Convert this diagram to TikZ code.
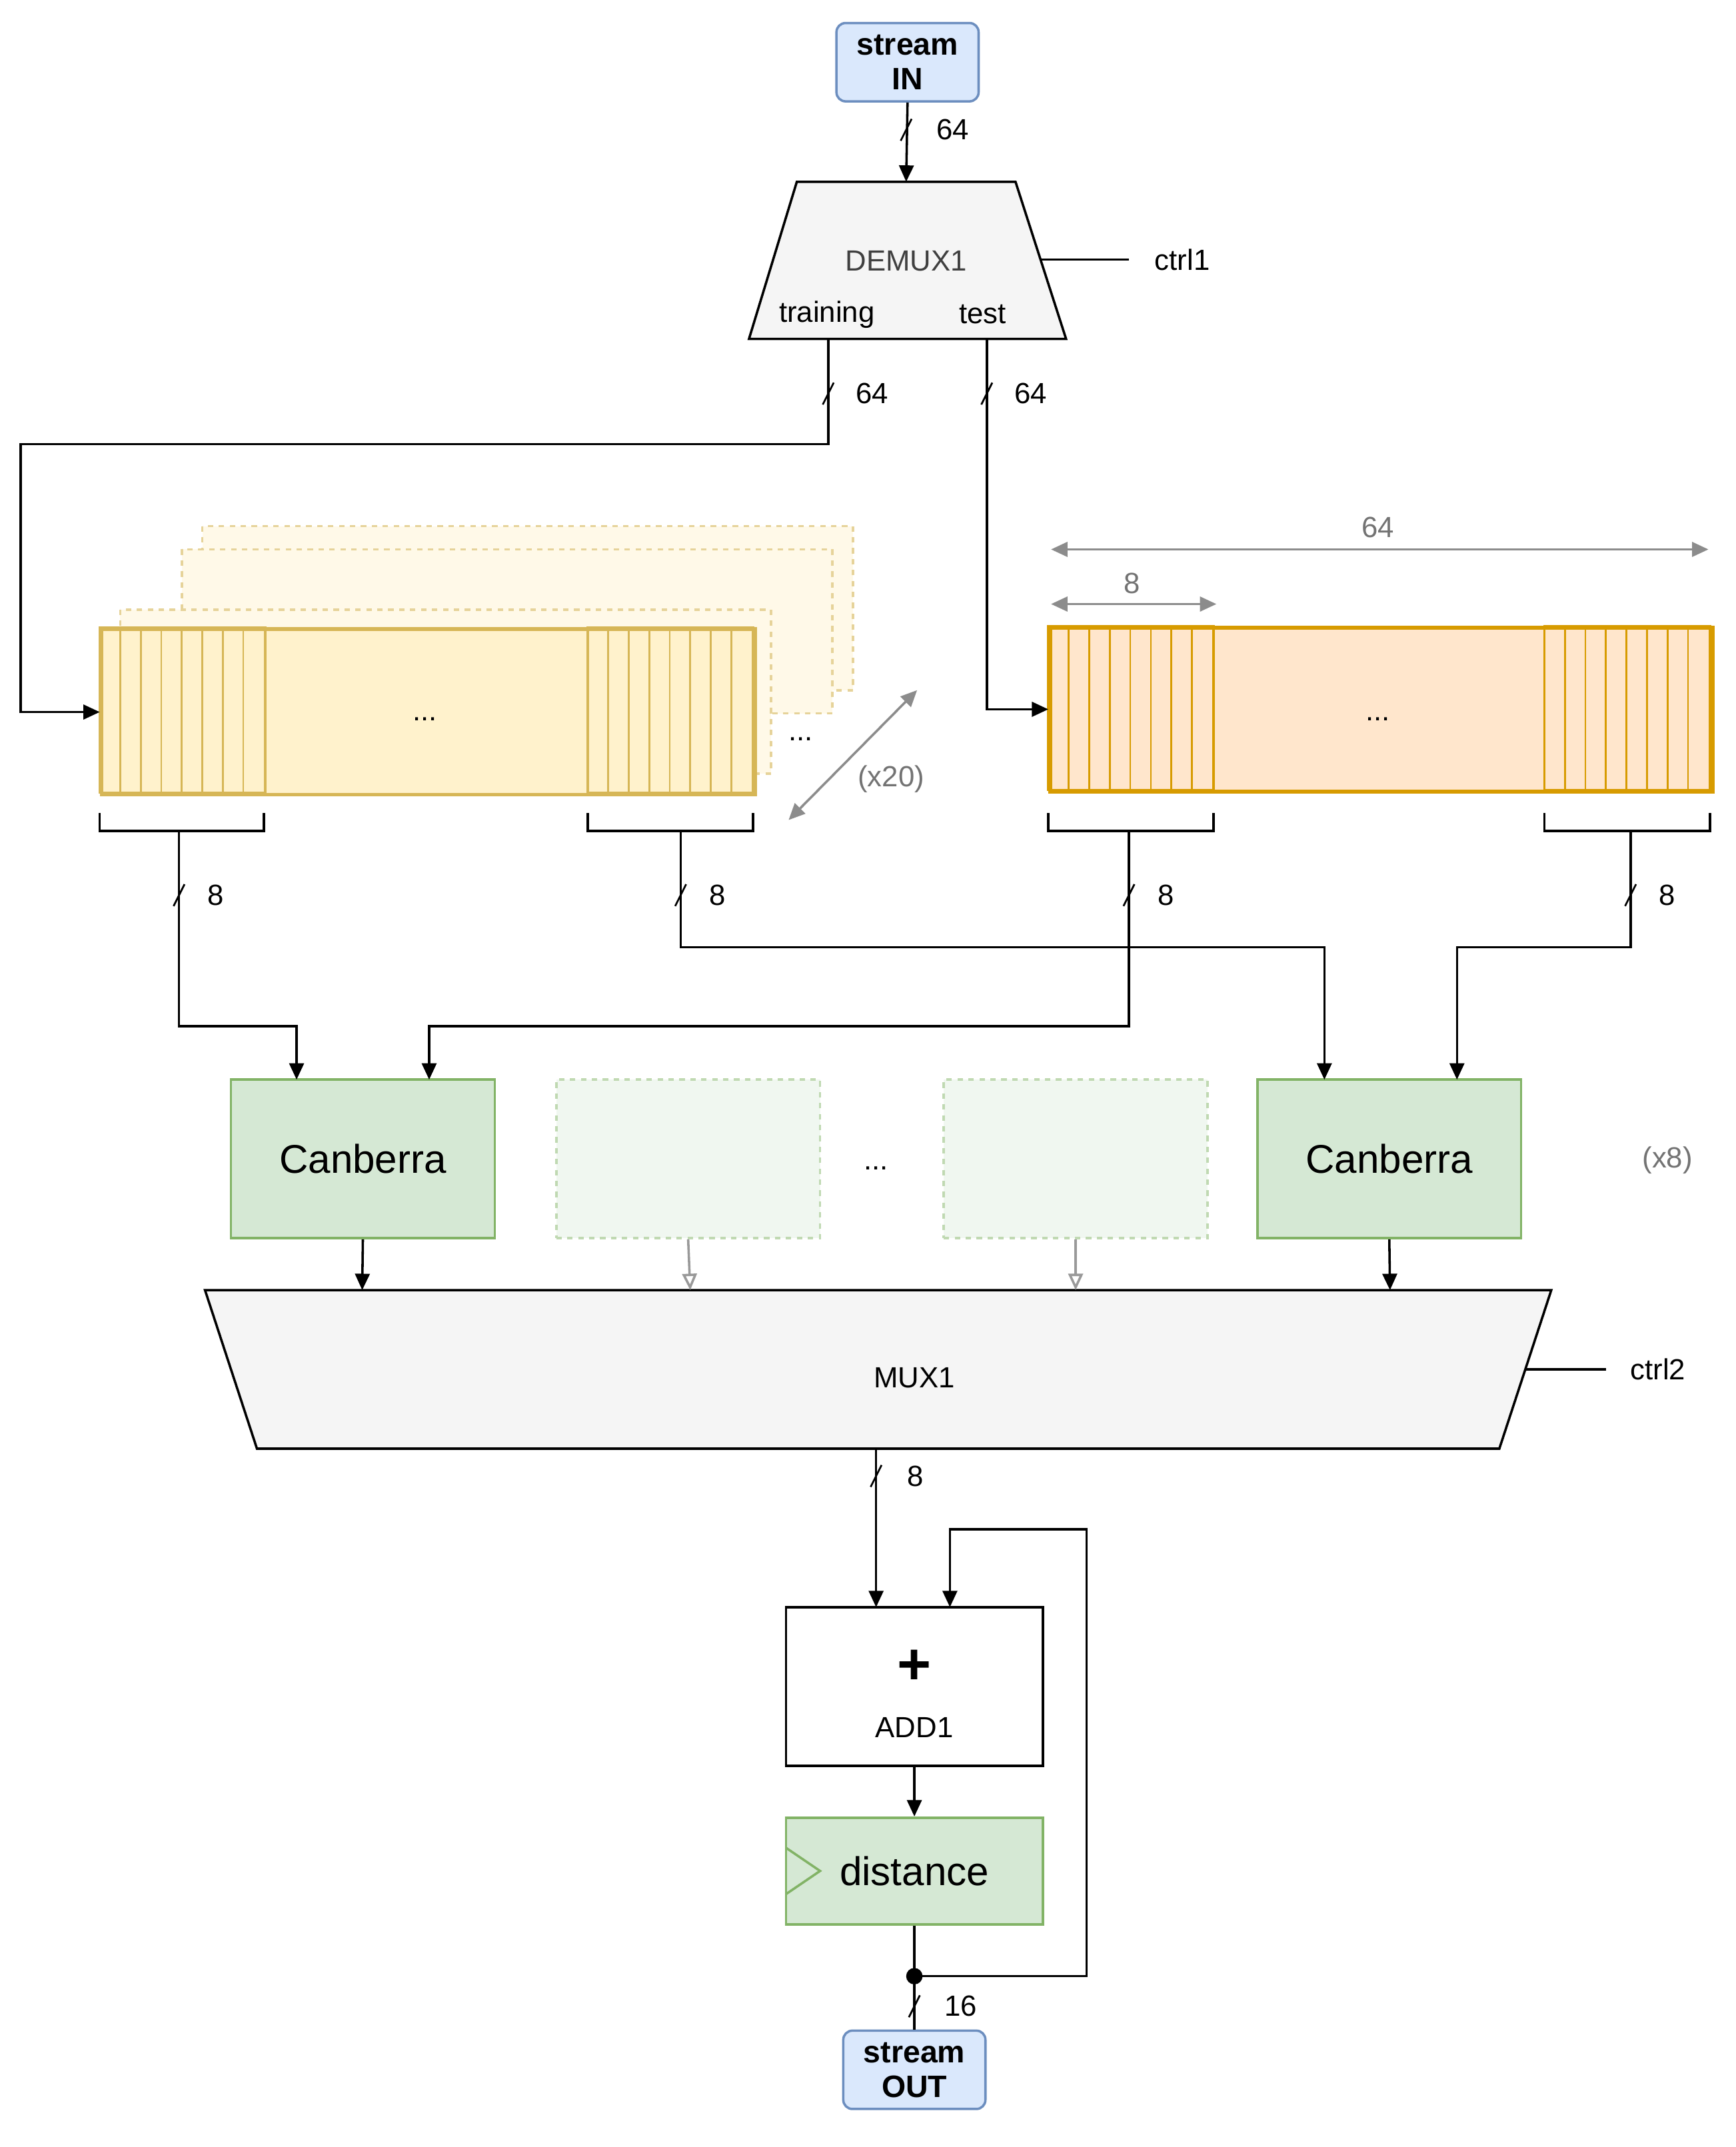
\documentclass[tikz,border=0pt]{standalone}
\usepackage{fontspec}
\setmainfont{Liberation Sans}
\usetikzlibrary{arrows.meta}
\definecolor{bluef}{HTML}{DAE8FC}\definecolor{blued}{HTML}{6C8EBF}
\definecolor{yelf}{HTML}{FFF2CC}\definecolor{yeld}{HTML}{D6B656}
\definecolor{orf}{HTML}{FFE6CC}\definecolor{ord}{HTML}{D79B00}
\definecolor{grf}{HTML}{D5E8D4}\definecolor{grd}{HTML}{82B366}
\definecolor{muxf}{HTML}{F5F5F5}
\begin{document}
\begin{tikzpicture}[x=0.75pt,y=-0.75pt,
  lbl/.style={font=\fontsize{16}{18}\selectfont,inner sep=0},
  glbl/.style={lbl,text=black!55},
  wire/.style={line width=1.3pt},
  arr/.style={wire,-{Triangle[length=9pt,width=8pt]}},
  garr/.style={line width=1.3pt,black!45,{Triangle[length=9pt,width=8pt]}-{Triangle[length=9pt,width=8pt]}},
  stream/.style={draw=blued,fill=bluef,line width=1.3pt,rounded corners=5pt,font=\fontsize{17}{19}\selectfont\bfseries,align=center,inner sep=0},
  green/.style={draw=grd,fill=grf,line width=1.3pt},
  ghost/.style={draw=grd!50,fill=grf!35,dashed,line width=1.3pt},
]
\useasboundingbox (0,0) rectangle (1270,1571);
\newcommand{\slashmark}[2]{\draw[line width=1pt] (#1-4,#2+8) -- (#1+4,#2-8);}
% stream in
\node[stream,minimum width=78pt,minimum height=43pt] (sin) at (664,45.5) {stream\\IN};
\draw[fill=muxf,line width=1.3pt] (583,133) -- (743,133) -- (780,248) -- (548,248) -- cycle;
\node[lbl,text=black!75] (demux) at (663,191) {DEMUX1};
\node[lbl] (tr) at (605,230) {training};
\node[lbl] (te) at (719,230) {test};
\coordinate (dtop) at (663,133);
\draw[arr] (sin.south) -- (dtop);
\slashmark{663}{95}\node[lbl] at (697,95) {64};
\draw[wire] (762,190) -- (826,190); \node[lbl] (c1) at (865,190) {ctrl1};
% ghost registers
\foreach \x/\y in {148/385,133/402,88/446}
  \draw[draw=yeld!60,fill=yelf!45,dashed,line width=1.3pt] (\x,\y) rectangle ++(476,120);
% left register
\node[draw=yeld,fill=yelf,line width=2pt,minimum width=358.5pt,minimum height=90.75pt,inner sep=0,anchor=north west] (lreg) at (73,459) {};
\foreach \a in {73,430}{
  \draw[draw=yeld,line width=1.3pt] (\a,459) rectangle ++(121,121);
  \foreach \i in {1,...,7} \draw[draw=yeld,line width=1pt] (\a+15*\i,459) -- (\a+15*\i,580);}
\node[lbl] at (311,526) {...};
\node[lbl] at (586,541) {...};
\draw[garr] (577,600) -- (671,505); \node[glbl] at (652,570) {(x20)};
% right register
\node[draw=ord,fill=orf,line width=2pt,minimum width=363.75pt,minimum height=90pt,inner sep=0,anchor=north west] (rreg) at (767,458) {};
\foreach \a in {767,1130}{
  \draw[draw=ord,line width=1.3pt] (\a,458) rectangle ++(121,120);
  \foreach \i in {1,...,7} \draw[draw=ord,line width=1pt] (\a+15*\i,458) -- (\a+15*\i,578);}
\node[lbl] at (1008,526) {...};
\draw[garr] (769,402) -- (1250,402); \node[glbl] at (1008,386) {64};
\draw[garr] (769,442) -- (890,442); \node[glbl] at (828,427) {8};
% inputs from demux
\coordinate (lin) at (73,521); \coordinate (rin) at (767,519);
\draw[arr] (606,248) -- (606,325) -- (15,325) -- (15,521) -- (lin);
\slashmark{606}{288}\node[lbl] at (638,288) {64};
\draw[arr] (722,248) -- (722,519) -- (rin);
\slashmark{722}{288}\node[lbl] at (754,288) {64};
% brackets
\foreach \a/\b in {73/193,430/551,767/888,1130/1251}
  \draw[wire] (\a,595) -- (\a,608) -- (\b,608) -- (\b,595);
% canberra
\node[green,minimum width=144.75pt,minimum height=87pt,font=\fontsize{22}{24}\selectfont] (can1) at (265.5,848) {Canberra};
\node[green,minimum width=144.75pt,minimum height=87pt,font=\fontsize{22}{24}\selectfont] (can2) at (1016.5,848) {Canberra};
\node[ghost,minimum width=144.75pt,minimum height=87pt] (g1) at (503.5,848) {};
\node[ghost,minimum width=144.75pt,minimum height=87pt] (g2) at (787,848) {};
\node[lbl] at (641,855) {...};
\node[glbl] at (1220,849) {(x8)};
\draw[arr] (131,608) -- (131,751) -- (217,751) -- (217,790);
\slashmark{131}{655}\node[lbl] at (158,655) {8};
\draw[arr] (498,608) -- (498,693) -- (969,693) -- (969,790);
\slashmark{498}{655}\node[lbl] at (525,655) {8};
\draw[arr] (826,608) -- (826,751) -- (314,751) -- (314,790);
\slashmark{826}{655}\node[lbl] at (853,655) {8};
\draw[arr] (1193,608) -- (1193,693) -- (1066,693) -- (1066,790);
\slashmark{1193}{655}\node[lbl] at (1220,655) {8};
% mux
\draw[fill=muxf,line width=1.3pt] (150,944) -- (1135,944) -- (1097,1060) -- (188,1060) -- cycle;
\node[lbl] (mux) at (669,1008) {MUX1};
\draw[arr] (can1.south) -- (265,944);
\draw[arr] (can2.south) -- (1017,944);
\draw[line width=1.3pt,black!40,-{Triangle[length=9pt,width=8pt,open,fill=white]}] (g1.south) -- (505,944);
\draw[line width=1.3pt,black!40,-{Triangle[length=9pt,width=8pt,open,fill=white]}] (g2.south) -- (787,944);
\draw[wire] (1116,1002) -- (1175,1002); \node[lbl] (c2) at (1213,1002) {ctrl2};
% adder
\node[draw,fill=white,line width=1.3pt,minimum width=141pt,minimum height=87pt] (add) at (669,1234) {};
\node[inner sep=0,font=\fontsize{32}{32}\selectfont\bfseries] at (669,1220) {+};
\node[lbl] at (669,1264) {ADD1};
\draw[arr] (641,1060) -- (641,1176);
\slashmark{641}{1080}\node[lbl] at (670,1080) {8};
\node[green,minimum width=141pt,minimum height=58.5pt,font=\fontsize{22}{24}\selectfont] (dist) at (669,1369) {distance};
\draw[draw=grd,line width=1.3pt] (575,1352) -- (600,1369) -- (575,1386);
\draw[arr] (add.south) -- (dist.north);
\node[stream,minimum width=78pt,minimum height=43pt] (sout) at (669,1514.5) {stream\\OUT};
\coordinate (dot) at (669,1446);
\draw[wire] (dist.south) -- (sout.north);
\fill (dot) circle (4.5pt);
\draw[arr] (dot) -- (795,1446) -- (795,1119) -- (695,1119) -- (695,1176);
\slashmark{669}{1468}\node[lbl] at (703,1468) {16};
\end{tikzpicture}
\end{document}
